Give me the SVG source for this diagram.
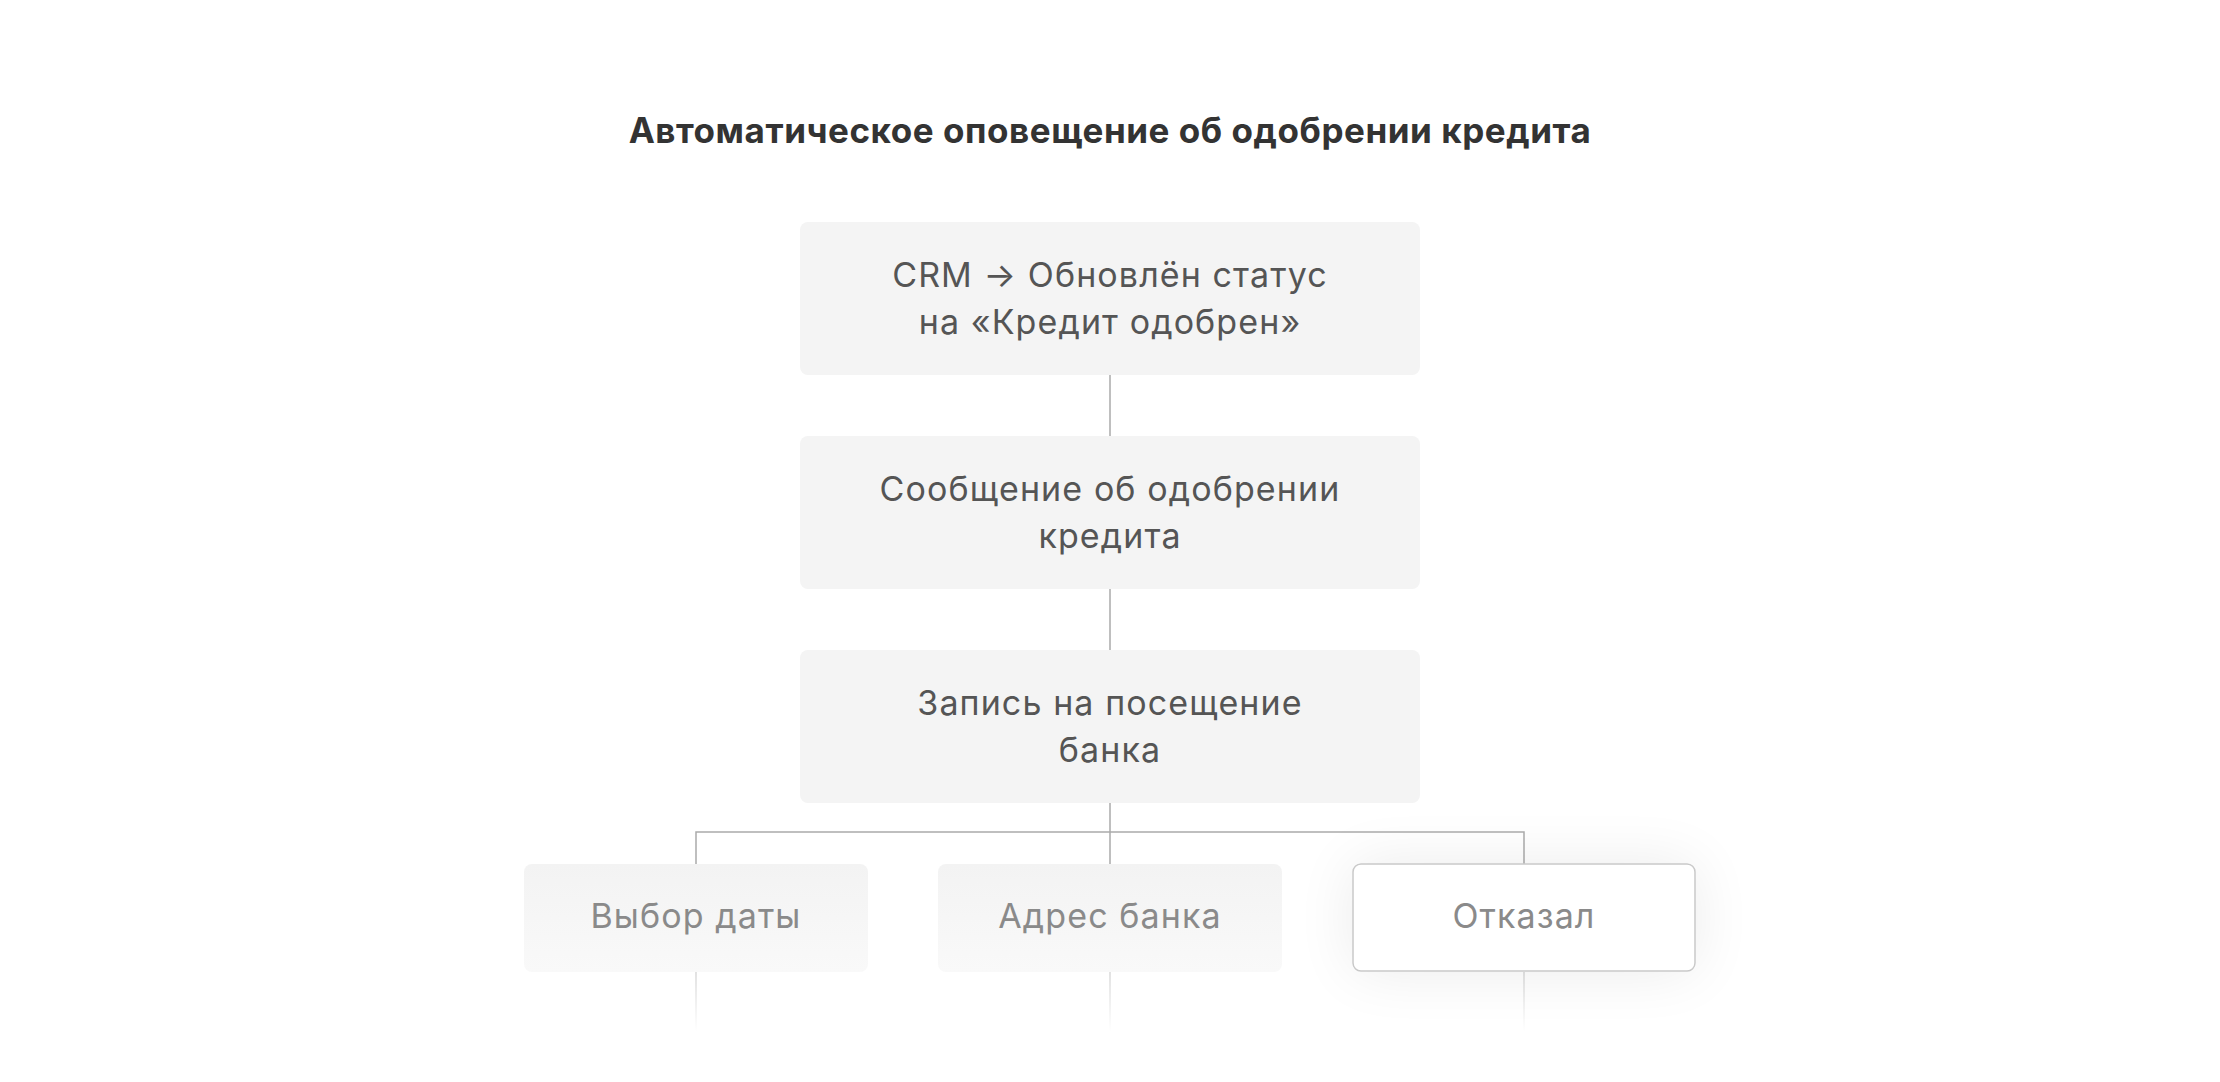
<svg xmlns="http://www.w3.org/2000/svg" width="2220" height="1082" viewBox="0 0 2220 1082">
<style>
.title{font-family:Inter,"Noto Sans","Liberation Sans",sans-serif;font-weight:700;font-size:35px;letter-spacing:0.55px;fill:#333;text-anchor:middle}
.t{font-family:Inter,"Noto Sans","Liberation Sans",sans-serif;font-size:34px;letter-spacing:1.1px;fill:#555;text-anchor:middle}
.tf{font-family:Inter,"Noto Sans","Liberation Sans",sans-serif;font-size:34px;letter-spacing:1.1px;fill:#8a8a8a;text-anchor:middle}
.box{fill:#f4f4f4}
.fbox{fill:url(#fade)}
.cbox{fill:#fff;stroke:#c9c9c9;stroke-width:1.5}
.ln{stroke:#aaa;stroke-width:1.5;fill:none}
.fl{stroke:url(#lfade);stroke-width:1.5;fill:none}
</style>
<defs>
<linearGradient id="fade" x1="0" y1="0" x2="0" y2="1">
<stop offset="0" stop-color="#f3f3f3"/>
<stop offset="1" stop-color="#f9f9f9"/>
</linearGradient>
<linearGradient id="lfade" gradientUnits="userSpaceOnUse" x1="0" y1="972" x2="0" y2="1032">
<stop offset="0" stop-color="#d8d8d8"/>
<stop offset="1" stop-color="#ffffff"/>
</linearGradient>
<filter id="sh" x="-40%" y="-100%" width="180%" height="300%">
<feGaussianBlur in="SourceAlpha" stdDeviation="30"/>
<feComponentTransfer><feFuncA type="linear" slope="0.08"/></feComponentTransfer>
<feMerge><feMergeNode/><feMergeNode in="SourceGraphic"/></feMerge>
</filter>
</defs>
<rect width="2220" height="1082" fill="#fff"/>
<text class="title" x="1110" y="143">Автоматическое оповещение об одобрении кредита</text>
<g id="connectors">
<line class="ln" x1="1110" y1="375" x2="1110" y2="436"/>
<line class="ln" x1="1110" y1="589" x2="1110" y2="650"/>
<path class="ln" d="M1110 803V832M696 864V832H1524V864M1110 832V864"/>
<line class="fl" x1="696" y1="972" x2="696.01" y2="1032"/>
<line class="fl" x1="1110" y1="972" x2="1110.01" y2="1032"/>
<line class="fl" x1="1524" y1="972" x2="1524.01" y2="1032"/>
</g>
<g id="n1">
<rect class="box" x="800" y="222" width="620" height="153" rx="8"/>
<text class="t" x="1110" y="287">CRM → Обновлён статус</text>
<text class="t" x="1110" y="334">на «Кредит одобрен»</text>
</g>
<g id="n2">
<rect class="box" x="800" y="436" width="620" height="153" rx="8"/>
<text class="t" x="1110" y="501">Сообщение об одобрении</text>
<text class="t" x="1110" y="548">кредита</text>
</g>
<g id="n3">
<rect class="box" x="800" y="650" width="620" height="153" rx="8"/>
<text class="t" x="1110" y="715">Запись на посещение</text>
<text class="t" x="1110" y="762">банка</text>
</g>
<g id="n4">
<rect class="fbox" x="524" y="864" width="344" height="108" rx="8"/>
<text class="tf" x="696" y="928">Выбор даты</text>
</g>
<g id="n5">
<rect class="fbox" x="938" y="864" width="344" height="108" rx="8"/>
<text class="tf" x="1110" y="928">Адрес банка</text>
</g>
<g id="n6">
<rect class="cbox" x="1353" y="864" width="342" height="107" rx="8" filter="url(#sh)"/>
<text class="tf" x="1524" y="928">Отказал</text>
</g>
</svg>
